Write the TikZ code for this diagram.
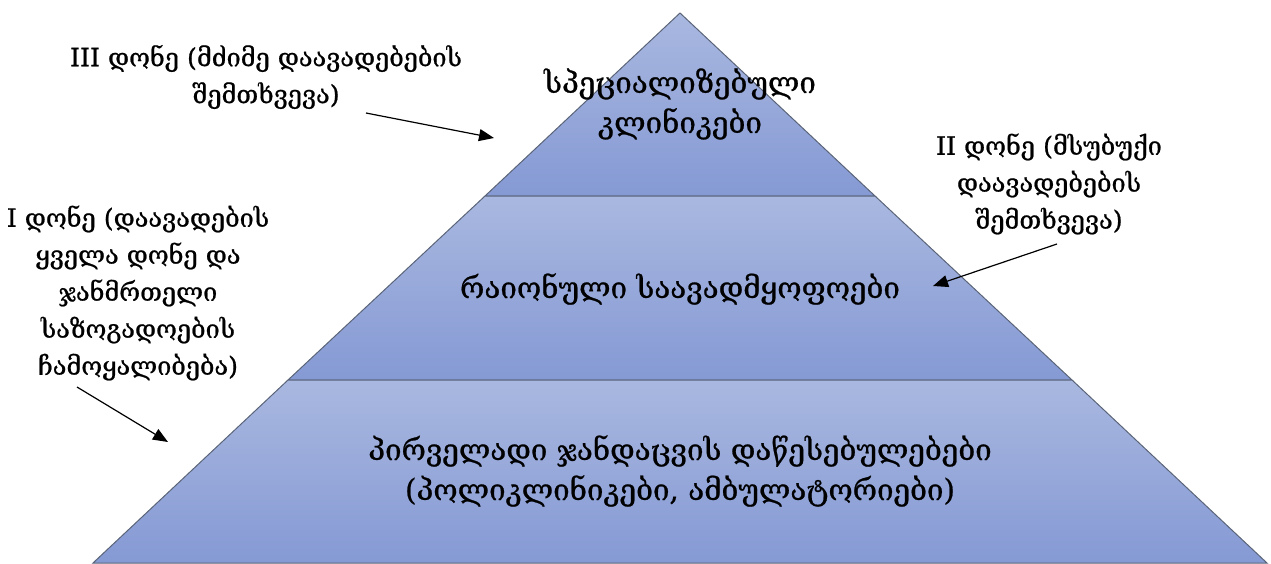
\documentclass[tikz,border=0pt]{standalone}
\usepackage{fontspec}
\setmainfont[FakeBold=0.8]{DejaVu Serif}
\usetikzlibrary{arrows.meta}
\definecolor{bandtop}{HTML}{A9B8E0}
\definecolor{bandbot}{HTML}{8599D4}
\definecolor{edge}{HTML}{5A6478}
\begin{document}
\begin{tikzpicture}[x=1pt,y=-1pt,
  band/.style={draw=edge,line width=1pt,top color=bandtop,bottom color=bandbot},
  lbl/.style={align=center,font=\fontsize{25.3}{37}\selectfont,inner sep=0pt},
  inlbl/.style={align=center,font=\fontsize{29.5}{40}\selectfont,inner sep=0pt},
  arr/.style={line width=1.2pt,-{Triangle[length=15pt,width=12pt]}}]
\useasboundingbox (0,0) rectangle (1271,563);
\coordinate (apex) at (680,13);
\coordinate (l1) at (485,196); \coordinate (r1) at (875,196);
\coordinate (l2) at (288,380); \coordinate (r2) at (1072,380);
\coordinate (bl) at (93,563); \coordinate (br) at (1267,563);
\path[band] (apex) -- (r1) -- (l1) -- cycle;
\path[band] (l1) -- (r1) -- (r2) -- (l2) -- cycle;
\path[band] (l2) -- (r2) -- (br) -- (bl) -- cycle;
\node[inlbl] (top) at (680,104) {სპეციალიზებული\\კლინიკები};
\node[inlbl] (mid) at (680,289) {რაიონული საავადმყოფოები};
\node[inlbl] (bot) at (680,471) {პირველადი ჯანდაცვის დაწესებულებები\\(პოლიკლინიკები, ამბულატორიები)};
\node[lbl] (t3) at (266,77) {III დონე (მძიმე დაავადებების\\შემთხვევა)};
\node[lbl] (t2) at (1049,184) {II დონე (მსუბუქი\\დაავადებების\\შემთხვევა)};
\node[lbl] (t1) at (138,293) {I დონე (დაავადების\\ყველა დონე და\\ჯანმრთელი\\საზოგადოების\\ჩამოყალიბება)};
\coordinate (a3s) at (366,113); \coordinate (a3e) at (494,138);
\coordinate (a2s) at (1057,244); \coordinate (a2e) at (933,286);
\coordinate (a1s) at (77,387); \coordinate (a1e) at (168,442);
\draw[arr] (a3s) -- (a3e);
\draw[arr] (a2s) -- (a2e);
\draw[arr] (a1s) -- (a1e);
\end{tikzpicture}
\end{document}
